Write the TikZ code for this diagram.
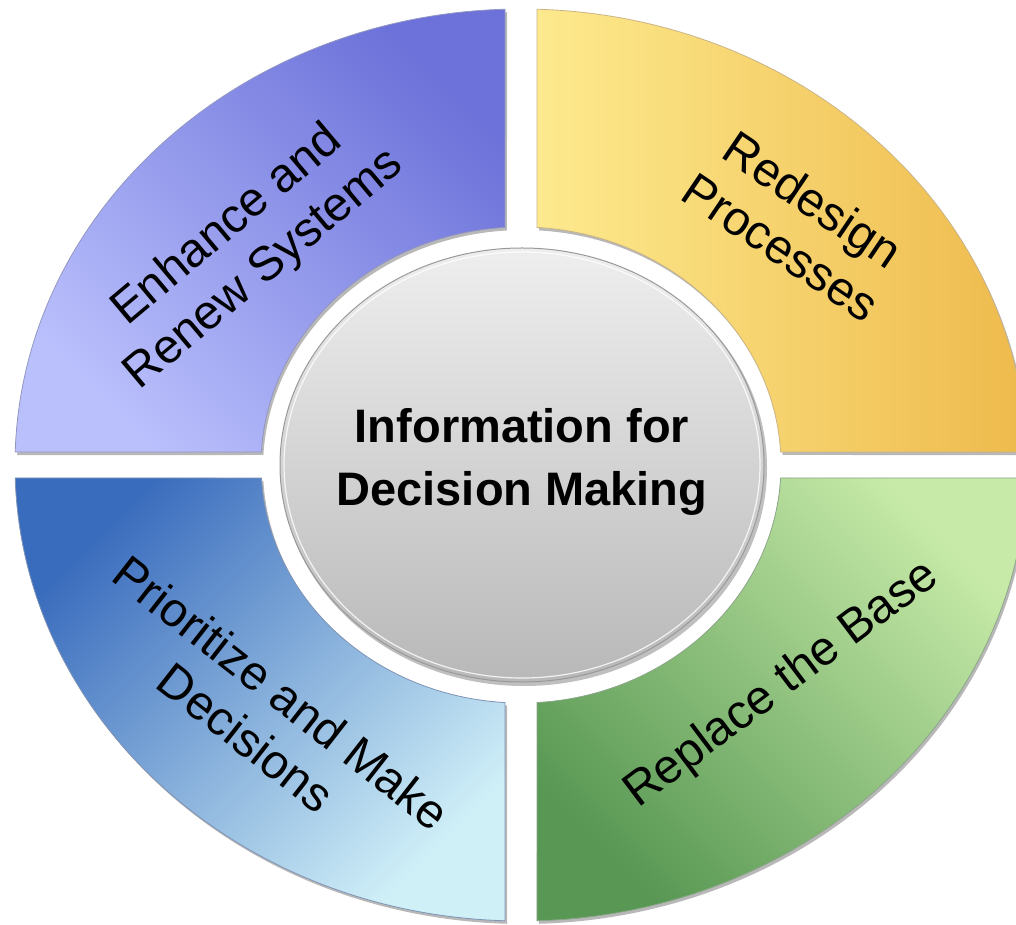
\documentclass[tikz,border=0pt]{standalone}
\usepackage{fontspec}
\setmainfont{Liberation Sans}
\usetikzlibrary{calc}
\definecolor{purpDark}{RGB}{108,114,217}
\definecolor{purpLight}{RGB}{186,192,252}
\definecolor{yelLight}{RGB}{253,234,142}
\definecolor{yelDark}{RGB}{238,186,76}
\definecolor{bluDark}{RGB}{58,108,189}
\definecolor{bluLight}{RGB}{208,240,248}
\definecolor{grnLight}{RGB}{199,234,168}
\definecolor{grnDark}{RGB}{88,152,84}
\definecolor{ctrTop}{RGB}{238,238,238}
\definecolor{ctrBot}{RGB}{184,184,184}
\begin{document}
\begin{tikzpicture}[x=1pt,y=1pt,
  lbl/.style={font=\fontsize{48}{57}\selectfont, align=center, text=black},
  ctrlbl/.style={font=\bfseries\fontsize{47}{63}\selectfont, align=center, text=black},
  shadowfill/.style={fill=black, opacity=0.28},
  rim/.style={draw=black!35, line width=0.8pt},
  qTL/.style={insert path={(505,914.77) arc[start angle=91.81,end angle=178.37,x radius=506pt,y radius=456pt] -- (261.39,472) arc[start angle=176.87,end angle=93.53,x radius=260pt,y radius=238pt] -- cycle}},
  qTR/.style={insert path={(1026.8,471.97) arc[start angle=1.63,end angle=88.19,x radius=506pt,y radius=456pt] -- (537,696.55) arc[start angle=86.47,end angle=3.13,x radius=260pt,y radius=238pt] -- cycle}},
  qBL/.style={insert path={(15.2,446.03) arc[start angle=181.63,end angle=268.19,x radius=506pt,y radius=456pt] -- (505,221.45) arc[start angle=266.47,end angle=183.13,x radius=260pt,y radius=238pt] -- cycle}},
  qBR/.style={insert path={(536.98,3.23) arc[start angle=271.81,end angle=358.37,x radius=506pt,y radius=456pt] -- (780.61,446) arc[start angle=356.87,end angle=273.53,x radius=260pt,y radius=238pt] -- cycle}}
]
\useasboundingbox (0,0) rectangle (1016,924);
\clip (0,0) rectangle (1016,924);
\fill[white] (0,0) rectangle (1016,924);
% shadows
\fill[shadowfill, xshift=2pt, yshift=-3pt, qTL];
\fill[shadowfill, xshift=2pt, yshift=-3pt, qTR];
\fill[shadowfill, xshift=2pt, yshift=-3pt, qBL];
\fill[shadowfill, xshift=2pt, yshift=-3pt, qBR];
% quadrants
\shade[top color=purpDark, bottom color=purpLight, shading angle=-45, qTL];
\shade[left color=yelLight, right color=yelDark, qTR];
\shade[top color=bluDark, bottom color=bluLight, shading angle=45, qBL];
\shade[top color=grnLight, bottom color=grnDark, shading angle=-45, qBR];
\draw[rim, draw=purpDark!70!black!60, qTL];
\draw[rim, draw=yelDark!70!black!60, qTR];
\draw[rim, draw=bluDark!70!black!60, qBL];
\draw[rim, draw=grnDark!70!black!60, qBR];
% centre
\fill[black, opacity=0.25] (524,456) ellipse [x radius=243pt, y radius=218pt];
\shade[top color=ctrTop, bottom color=ctrBot] (522,459) ellipse [x radius=242pt, y radius=217pt];
\draw[black!40, line width=1pt] (522,459) ellipse [x radius=242pt, y radius=217pt];
\draw[white, line width=1.2pt, opacity=0.8] (522,459) ellipse [x radius=238pt, y radius=213pt];
\node[ctrlbl] (center) at (522,462) {Information for\\Decision Making};
% labels
\node[lbl, rotate=40] (l1) at (246,676) {Enhance and\\Renew Systems};
\node[lbl, rotate=-34] (l2) at (797,701) {Redesign\\Processes};
\node[lbl, rotate=-38] (l3) at (264,209) {Prioritize and Make\\Decisions};
\node[lbl, rotate=37] (l4) at (782,239) {Replace the Base};
\end{tikzpicture}
\end{document}
